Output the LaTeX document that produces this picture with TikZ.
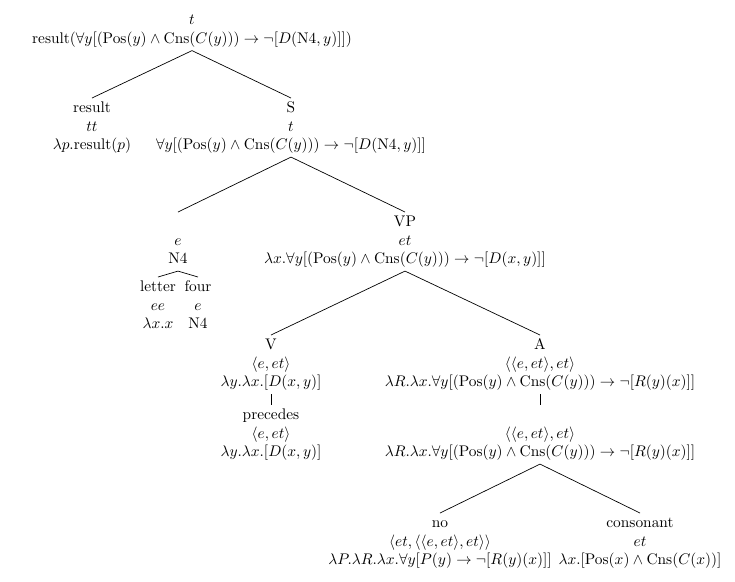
\documentclass[tikz,border=0pt]{standalone}
\begin{document}
\begin{tikzpicture}[x=0.65pt,y=-0.65pt,
  lbl/.style={anchor=north,align=center,inner sep=1pt},
  branch/.style={line width=0.45pt}]
\useasboundingbox (0,0) rectangle (735,581);
% formulas used in several nodes
\def\Pos#1{\mathrm{Pos}(#1)}
\def\Cns#1{\mathrm{Cns}(C(#1))}
% root and its daughters
\node[lbl] (root) at (192,10) {\strut$t$\\result$(\forall y[(\Pos{y}\wedge\Cns{y})\rightarrow\neg[D(\mathrm{N4},y)]])$\strut};
\node[lbl] (res) at (92,98) {\strut result\\$tt$\\$\lambda p.\mathrm{result}(p)$\strut};
\node[lbl] (s) at (291,98) {\strut S\\$t$\\$\forall y[(\Pos{y}\wedge\Cns{y})\rightarrow\neg[D(\mathrm{N4},y)]]$\strut};
% subject and predicate
\node[lbl] (np) at (178,212) {\strut\\$e$\\N4\strut};
\node[lbl] (vp) at (405,212) {\strut VP\\$et$\\$\lambda x.\forall y[(\Pos{y}\wedge\Cns{y})\rightarrow\neg[D(x,y)]]$\strut};
\node[lbl] (letter) at (158,277) {\strut letter\\$ee$\\$\lambda x.x$\strut};
\node[lbl] (four) at (198,277) {\strut four\\$e$\\N4\strut};
% verb and quantified object
\node[lbl] (v) at (271,335) {\strut V\\$\langle e,et\rangle$\\$\lambda y.\lambda x.[D(x,y)]$\strut};
\node[lbl] (a) at (540,335) {\strut A\\$\langle\langle e,et\rangle,et\rangle$\\$\lambda R.\lambda x.\forall y[(\Pos{y}\wedge\Cns{y})\rightarrow\neg[R(y)(x)]]$\strut};
\node[lbl] (prec) at (271,405) {\strut precedes\\$\langle e,et\rangle$\\$\lambda y.\lambda x.[D(x,y)]$\strut};
\node[lbl] (a2) at (540,405) {\strut\\$\langle\langle e,et\rangle,et\rangle$\\$\lambda R.\lambda x.\forall y[(\Pos{y}\wedge\Cns{y})\rightarrow\neg[R(y)(x)]]$\strut};
\node[lbl] (no) at (440,513) {\strut no\\$\langle et,\langle\langle e,et\rangle,et\rangle\rangle$\\$\lambda P.\lambda R.\lambda x.\forall y[P(y)\rightarrow\neg[R(y)(x)]]$\strut};
\node[lbl] (cons) at (640,513) {\strut consonant\\$et$\\$\lambda x.[\Pos{x}\wedge\Cns{x}]$\strut};
% branches
\draw[branch] (root.south) -- (res.north);
\draw[branch] (root.south) -- (s.north);
\draw[branch] (s.south) -- (np.north);
\draw[branch] (s.south) -- (vp.north);
\draw[branch] (np.south) -- (letter.north);
\draw[branch] (np.south) -- (four.north);
\draw[branch] (vp.south) -- (v.north);
\draw[branch] (vp.south) -- (a.north);
\draw[branch] (v.south) -- (prec.north);
\draw[branch] (a.south) -- (a2.north);
\draw[branch] (a2.south) -- (no.north);
\draw[branch] (a2.south) -- (cons.north);
\end{tikzpicture}
\end{document}
